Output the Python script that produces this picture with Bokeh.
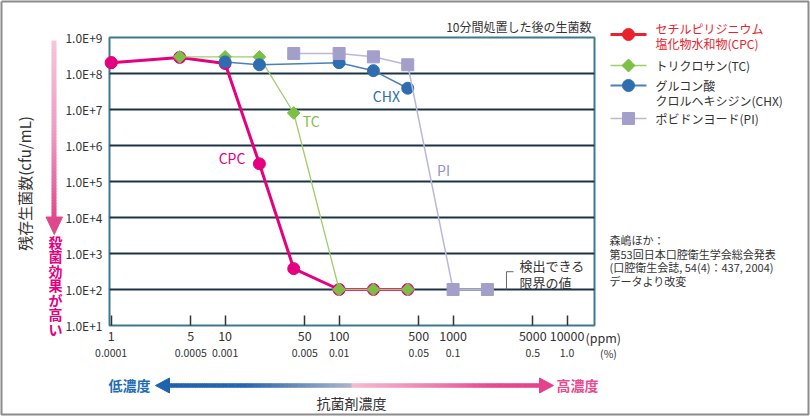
import numpy as np
from bokeh.plotting import figure
from bokeh.models import (Range1d, LogAxis, FixedTicker, ColumnDataSource, CDSView,
                          IndexFilter, Label, LinearScale)
from bokeh.embed import file_html
from bokeh.resources import INLINE
from bokeh.core.properties import value

FONT = "Noto Sans CJK JP"

# ---------------- data ----------------
conc_cpc = [1, 4, 10, 20, 40, 100, 200, 400]
cfu_cpc = [2.0e8, 2.8e8, 1.9e8, 3.1e5, 3.8e2, 1e2, 1e2, 1e2]
conc_tc = [4, 10, 20, 40, 100, 200, 400]
cfu_tc = [2.9e8, 2.9e8, 2.9e8, 8.0e6, 1e2, 1e2, 1e2]
conc_chx = [10, 20, 100, 200, 400]
cfu_chx = [2.1e8, 1.75e8, 2.0e8, 1.2e8, 3.9e7]
conc_pi = [40, 100, 200, 400, 1000, 2000]
cfu_pi = [3.6e8, 3.6e8, 2.9e8, 1.75e8, 1e2, 1e2]

ppm_ticks = [1, 5, 10, 50, 100, 500, 1000, 5000, 10000]
ppm_labels = ["1", "5", "10", "50", "100", "500", "1000", "5000", "10000"]
pct_labels = ["0.0001", "0.0005", "0.001", "0.005", "0.01", "0.05", "0.1", "0.5", "1.0"]
y_ticks = [10 ** k for k in range(1, 10)]
y_labels = ["1.0E+%d" % k for k in range(1, 10)]

legend_names = [["セチルピリジニウム", "塩化物水和物(CPC)"], ["トリクロサン(TC)"],
                ["グルコン酸", "クロルヘキシジン(CHX)"], ["ポビドンヨード(PI)"]]
note_lines = ["森嶋ほか：", "第53回日本口腔衛生学会総会発表",
              "(口腔衛生会誌, 54(4)：437, 2004)", "データより改変"]

MAG = "#e4007f"
GREEN = "#7cbf45"
GREEN_LINE = "#9ccf6a"
BLUE = "#2e6db0"
BLUE_LINE = "#4a80bb"
LAV = "#a39fcb"
LAV_LINE = "#bbb7dc"
RED = "#e8232c"
TXT = "#333333"

W, H = 810, 417
FL, FR, FT, FB = 109, 594, 37, 325   # frame edges in canvas pixels


def hex2rgb(h):
    return [int(h[i:i + 2], 16) for i in (1, 3, 5)]


def gradient(stops, pts):
    xs = [s[0] for s in stops]
    cs = np.array([hex2rgb(s[1]) for s in stops], dtype=float)
    out = []
    for t in pts:
        r, g, b = (np.interp(t, xs, cs[:, i]) for i in range(3))
        out.append("#%02x%02x%02x" % (int(r), int(g), int(b)))
    return out


def marker_shape(kind, cx, cy, r):
    if kind == "circle":
        t = np.linspace(0, 2 * np.pi, 33)
        return list(cx + r * np.cos(t)), list(cy + r * np.sin(t))
    if kind == "diamond":
        return [cx, cx + r, cx, cx - r], [cy - r, cy, cy + r, cy]
    return [cx - r, cx + r, cx + r, cx - r], [cy - r, cy - r, cy + r, cy + r]


# ---------------- main chart ----------------
p = figure(width=W, height=H, x_axis_type="log", y_axis_type="log",
           x_range=Range1d(0.968, 17400), y_range=Range1d(10, 1e9),
           toolbar_location=None, output_backend="svg",
           min_border_left=FL, min_border_right=W - FR, min_border_top=FT,
           min_border_bottom=H - FB, title="10分間処置した後の生菌数")
p.title.align = "right"
p.title.text_font = FONT
p.title.text_font_size = "12px"
p.title.text_font_style = "normal"
p.title.text_color = TXT
p.title.standoff = 6
p.title.offset = 3
p.background_fill_color = "white"
p.border_fill_color = "white"
p.outline_line_color = "#3f7895"
p.outline_line_width = 2
p.xgrid.visible = False
p.ygrid.ticker = FixedTicker(ticks=y_ticks[1:-1])
p.ygrid.grid_line_color = "#1d3345"
p.ygrid.grid_line_width = 2

# pixel-space ranges for the decorations around the chart
p.extra_x_ranges = {"px": Range1d(FL, FR)}
p.extra_y_ranges = {"py": Range1d(FB, FT)}
p.extra_x_scales = {"px": LinearScale()}
p.extra_y_scales = {"py": LinearScale()}
PX = dict(x_range_name="px", y_range_name="py", level="annotation")

ax1 = p.xaxis[0]
ax1.ticker = FixedTicker(ticks=ppm_ticks)
ax1.major_label_overrides = dict(zip(ppm_ticks, ppm_labels))
ax1.axis_line_color = None
ax1.major_tick_in = 10
ax1.major_tick_out = 0
ax1.major_tick_line_color = TXT
ax1.major_tick_line_width = 1.5
ax1.minor_tick_line_color = None
ax1.major_label_text_font = FONT
ax1.major_label_text_font_size = "12.5px"
ax1.major_label_text_color = TXT
ax1.major_label_standoff = 5

ax2 = LogAxis(ticker=FixedTicker(ticks=ppm_ticks),
              major_label_overrides=dict(zip(ppm_ticks, pct_labels)),
              axis_line_color=None, major_tick_line_color=None, minor_tick_line_color=None,
              major_label_text_font=FONT, major_label_text_font_size="10.5px",
              major_label_text_color=TXT, major_label_standoff=-1)
p.add_layout(ax2, "below")

ay = p.yaxis[0]
ay.ticker = FixedTicker(ticks=y_ticks)
ay.major_label_overrides = dict(zip(y_ticks, y_labels))
ay.axis_line_color = None
ay.major_tick_in = 0
ay.major_tick_out = 0
ay.minor_tick_line_color = None
ay.major_label_text_font = FONT
ay.major_label_text_font_size = "12px"
ay.major_label_text_color = TXT
ay.major_label_standoff = 7

src_cpc = ColumnDataSource(dict(x=conc_cpc, y=cfu_cpc))
src_tc = ColumnDataSource(dict(x=conc_tc, y=cfu_tc))
src_chx = ColumnDataSource(dict(x=conc_chx, y=cfu_chx))
src_pi = ColumnDataSource(dict(x=conc_pi, y=cfu_pi))

p.line("x", "y", source=src_cpc, line_color=MAG, line_width=3)
p.scatter("x", "y", source=src_cpc, size=12, fill_color=MAG, line_color=MAG)
p.line("x", "y", source=src_tc, line_color=GREEN_LINE, line_width=1.3)
p.scatter("x", "y", source=src_tc, marker="square", angle=np.pi / 4, size=9,
          fill_color=GREEN, line_color=GREEN)
p.line("x", "y", source=src_chx, line_color=BLUE_LINE, line_width=1.5)
p.scatter("x", "y", source=src_chx, size=12, fill_color=BLUE, line_color=BLUE)
p.line("x", "y", source=src_pi, line_color=LAV_LINE, line_width=1.5)
p.scatter("x", "y", source=src_pi, marker="square", size=12, fill_color=LAV, line_color=LAV)
# first CPC point sits on the frame edge: draw it unclipped
p.scatter("x", "y", source=src_cpc, view=CDSView(filter=IndexFilter([0])),
          size=12, fill_color=MAG, line_color=MAG, level="annotation")

for txt, x, y, col in [("CPC", 11.5, 4.5e5, MAG), ("TC", 57, 4.8e6, GREEN),
                       ("CHX", 260, 2.4e7, BLUE), ("PI", 824, 2.1e5, "#9590c4")]:
    p.add_layout(Label(x=x, y=y, text=txt, text_color=col, text_font=FONT,
                       text_font_size="14px", text_align="center", text_baseline="middle"))

# detection limit bracket
p.line(x=[3390, 2940, 2940], y=[312, 312, 100], line_color="#666666", line_width=1)
for txt, y in [("検出できる", 479), ("限界の値", 161)]:
    p.add_layout(Label(x=3830, y=y, text=txt, text_color=TXT, text_font=FONT,
                       text_font_size="13px", text_align="left", text_baseline="middle"))

# ---------------- left side: y title, arrow, vertical text ----------------
p.text(x=[24], y=[183], text=["残存生菌数(cfu/mL)"], angle=np.pi / 2,
       text_align="center", text_baseline="middle", text_font=value(FONT),
       text_font_size="15px", text_color=TXT, **PX)
ys = np.linspace(40, 218, 60)
p.segment(x0=53.5, y0=ys[:-1], x1=53.5, y1=ys[1:] + 0.6,
          line_color=gradient([(40, "#f7c6da"), (130, "#ee9ec1"), (218, "#e0498d")],
                              (ys[:-1] + ys[1:]) / 2),
          line_width=5, **PX)
p.patch(x=[45.5, 62, 53.75], y=[216.5, 216.5, 234], fill_color="#e0488c",
        line_color="#e0488c", **PX)
chars = list("殺菌効果が高い")
p.text(x=[55] * len(chars), y=[241 + 14.5 * i for i in range(len(chars))], text=chars,
       text_align="center", text_baseline="middle", text_font=value(FONT),
       text_font_size="14px", text_font_style="bold", text_color=MAG, **PX)

# ---------------- right side: legend, notes ----------------
leg_y = [34, 65, 85, 118]
leg_line = [RED, GREEN_LINE, BLUE_LINE, LAV_LINE]
leg_lw = [3, 1.5, 2, 1.5]
leg_fill = [RED, GREEN, BLUE, LAV]
leg_marker = ["circle", "diamond", "circle", "square"]
leg_r = [6, 6.5, 6, 6]
for i in range(4):
    p.line(x=[610, 646], y=[leg_y[i]] * 2, line_color=leg_line[i], line_width=leg_lw[i], **PX)
    mx, my = marker_shape(leg_marker[i], 628, leg_y[i], leg_r[i])
    p.patch(x=mx, y=my, fill_color=leg_fill[i], line_color=leg_fill[i], line_width=1, **PX)
text_rows = [(legend_names[0][0], 28, RED), (legend_names[0][1], 43, RED),
             (legend_names[1][0], 65, TXT), (legend_names[2][0], 85, TXT),
             (legend_names[2][1], 100, TXT), (legend_names[3][0], 118, TXT)]
p.text(x=[655] * len(text_rows), y=[r[1] for r in text_rows], text=[r[0] for r in text_rows],
       text_color=[r[2] for r in text_rows], text_align="left", text_baseline="middle",
       text_font=value(FONT), text_font_size="12px", **PX)
p.text(x=[609] * 4, y=[239, 253, 266, 280], text=note_lines, text_color=TXT,
       text_align="left", text_baseline="middle", text_font=value(FONT),
       text_font_size="11px", **PX)
p.text(x=[585], y=[336.5], text=["(ppm)"], text_color=TXT, text_align="left",
       text_baseline="middle", text_font=value(FONT), text_font_size="12.5px", **PX)
p.text(x=[608], y=[352.7], text=["(%)"], text_color=TXT, text_align="center",
       text_baseline="middle", text_font=value(FONT), text_font_size="10.5px", **PX)

# ---------------- bottom: concentration arrow ----------------
xs = np.linspace(166, 543, 160)
p.segment(x0=xs[:-1], y0=385, x1=xs[1:] + 0.6, y1=385,
          line_color=gradient([(166, "#1d63ad"), (245, "#2767ad"), (350, "#a9b5cb"),
                               (351, "#f7bcd2"), (430, "#ec83b1"), (490, "#e64a91"),
                               (543, "#e4438b")], (xs[:-1] + xs[1:]) / 2),
          line_width=4.5, **PX)
p.patch(x=[155, 169, 169], y=[385, 377.5, 392.5], fill_color="#1d63ad",
        line_color="#1d63ad", **PX)
p.patch(x=[553, 539, 539], y=[385, 377.5, 392.5], fill_color="#e4438b",
        line_color="#e4438b", **PX)
p.text(x=[129, 577], y=[384.5, 384.5], text=["低濃度", "高濃度"],
       text_color=["#1f6db4", "#e84b8f"], text_align="center", text_baseline="middle",
       text_font=value(FONT), text_font_size="14px", text_font_style="bold", **PX)
p.text(x=[351], y=[402.5], text=["抗菌剤濃度"], text_color=TXT, text_align="center",
       text_baseline="middle", text_font=value(FONT), text_font_size="14px", **PX)

# outer gray border
p.line(x=[1, 808, 808, 1, 1], y=[1, 1, 414, 414, 1], line_color="#8c8c8c",
       line_width=2, **PX)

open("out.html", "w").write(file_html(p, INLINE))
